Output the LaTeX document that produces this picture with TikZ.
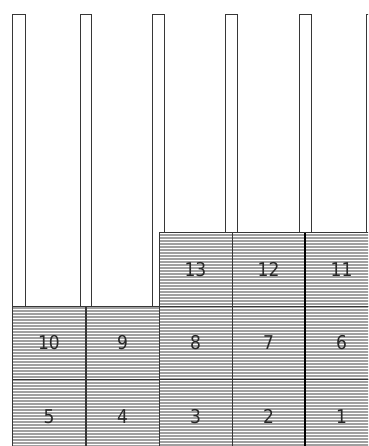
\documentclass[tikz,border=0pt]{standalone}
\usepackage{fontspec}
\newfontfamily\digitfont{DejaVu Sans Condensed}
\definecolor{edge}{RGB}{55,55,55}
\definecolor{hatch}{RGB}{160,160,160}
\definecolor{numc}{RGB}{40,40,40}
\tikzset{
  rod/.style={draw=edge, fill=white, line width=0.9pt},
  blk/.style={draw=edge, line width=0.9pt, minimum width=73pt, minimum height=73.5pt,
              inner sep=0pt, outer sep=0pt, font=\digitfont\fontsize{19}{19}\selectfont, text=numc},
  hatchline/.style={draw=hatch, line width=1.1pt},
}
\begin{document}
\begin{tikzpicture}[x=1pt,y=-1pt]
\useasboundingbox (0,0) rectangle (368,446);
\clip (0,0) rectangle (368,446);
\fill[white] (0,0) rectangle (368,446);
% rods
\draw[rod] (12.5,14) rectangle (25,306);
\draw[rod] (80,14) rectangle (91.5,306);
\draw[rod] (152.5,14) rectangle (164,306);
\draw[rod] (225.5,14) rectangle (237.5,306);
\draw[rod] (299,14) rectangle (311.5,306);
\draw[rod] (366,14) rectangle (379,306);
% hatched areas
\fill[white] (12,306) rectangle (159,446);
\fill[white] (159,233) rectangle (380,446);
\foreach \y in {308,311,...,446} {\draw[hatchline] (12.5,\y) -- (159,\y);}
\foreach \y in {235,238,...,446} {\draw[hatchline] (159,\y) -- (380,\y);}
% blocks
\node[blk] (b10) at (49,342.75) {10};
\node[blk] (b9) at (122.5,342.75) {9};
\node[blk] (b8) at (195.5,342.75) {8};
\node[blk] (b7) at (268.5,342.75) {7};
\node[blk] (b6) at (341.5,342.75) {6};
\node[blk] (b5) at (49,416.25) {5};
\node[blk] (b4) at (122.5,416.25) {4};
\node[blk] (b3) at (195.5,416.25) {3};
\node[blk] (b2) at (268.5,416.25) {2};
\node[blk] (b1) at (341.5,416.25) {1};
\node[blk] (b13) at (195.5,269.25) {13};
\node[blk] (b12) at (268.5,269.25) {12};
\node[blk] (b11) at (341.5,269.25) {11};
% thicker dividing line
\draw[black, line width=1.6pt] (b11.north west) -- (b1.south west);
\end{tikzpicture}
\end{document}
